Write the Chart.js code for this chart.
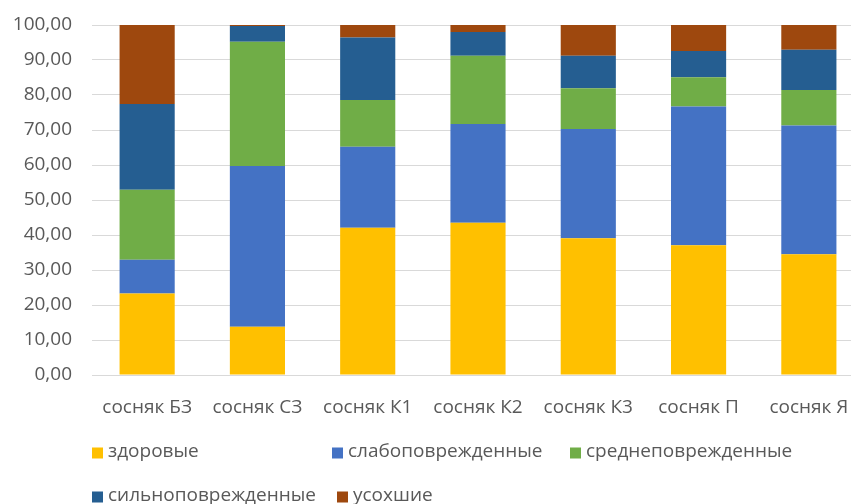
<!DOCTYPE html>
<html>
<head>
<meta charset="utf-8">
<script src="https://cdn.jsdelivr.net/npm/chart.js@4"></script>
<style>
html,body{margin:0;padding:0;background:#fff;overflow:hidden;width:851px;height:504px;}
#wrap{position:absolute;left:0;top:0;width:866px;height:504px;}
</style>
</head>
<body>
<div id="wrap"><canvas id="c"></canvas></div>
<script>
const categories = ["сосняк БЗ","сосняк СЗ","сосняк К1","сосняк К2","сосняк К3","сосняк П","сосняк Я"];
const seriesNames = ["здоровые","слабоповрежденные","среднеповрежденные","сильноповрежденные","усохшие"];
const healthy     = [23.3, 13.8, 42.1, 43.5, 39.1, 37.1, 34.5];
const weak        = [9.6, 45.9, 23.1, 28.2, 31.2, 39.6, 36.8];
const medium      = [20.0, 35.5, 13.4, 19.5, 11.6, 8.4, 10.1];
const strong      = [24.5, 4.5, 17.8, 6.8, 9.3, 7.5, 11.5];
const dried       = [22.6, 0.3, 3.6, 2.0, 8.8, 7.4, 7.1];
const yTicks      = [0,10,20,30,40,50,60,70,80,90,100];

const colors = ["#FFC000","#4472C4","#70AD47","#255E91","#9E480E"];
const seriesValues = [healthy, weak, medium, strong, dried];
const FONT = "'Open Sans', sans-serif";
const TEXT = "#595959";

const legendPos = [[92,453],[332,453],[570,453],[92,497],[337,497]];

const customLegend = {
  id: 'customLegend',
  afterDraw(chart) {
    const ctx = chart.ctx;
    ctx.save();
    ctx.font = "19px " + FONT;
    ctx.textBaseline = "middle";
    ctx.textAlign = "left";
    chart.data.datasets.forEach((ds, i) => {
      const [x, y] = legendPos[i];
      ctx.fillStyle = ds.backgroundColor;
      ctx.fillRect(x, y - 5.5, 11, 11);
      ctx.fillStyle = TEXT;
      ctx.fillText(ds.label, x + 16, y - 1);
    });
    ctx.restore();
  }
};

new Chart(document.getElementById('c'), {
  type: 'bar',
  data: {
    labels: categories,
    datasets: seriesNames.map((n, i) => ({
      label: n,
      data: seriesValues[i],
      backgroundColor: colors[i],
      borderWidth: 0,
      categoryPercentage: 1.0,
      barPercentage: 0.5
    }))
  },
  options: {
    responsive: true,
    maintainAspectRatio: false,
    animation: false,
    layout: { padding: { top: 25, right: 2, left: 0, bottom: 80 } },
    plugins: { legend: { display: false }, tooltip: { enabled: false } },
    scales: {
      x: {
        stacked: true,
        grid: { display: false },
        border: { display: false },
        ticks: { color: TEXT, font: { family: FONT, size: 19 }, padding: 13, maxRotation: 0 },
        afterFit(s) { s.height = 49; s.paddingLeft = 0; s.paddingRight = 0; }
      },
      y: {
        stacked: true,
        min: 0, max: 100,
        afterBuildTicks(s) { s.ticks = yTicks.map(v => ({ value: v })); },
        grid: { color: "#D9D9D9", lineWidth: 1, drawTicks: false },
        border: { display: false },
        ticks: {
          color: TEXT, font: { family: FONT, size: 19 }, padding: 20,
          callback: v => v.toFixed(2).replace('.', ',')
        },
        afterFit(s) { s.width = 92; s.paddingTop = 0; s.paddingBottom = 0; }
      }
    }
  },
  plugins: [customLegend]
});
</script>
</body>
</html>
